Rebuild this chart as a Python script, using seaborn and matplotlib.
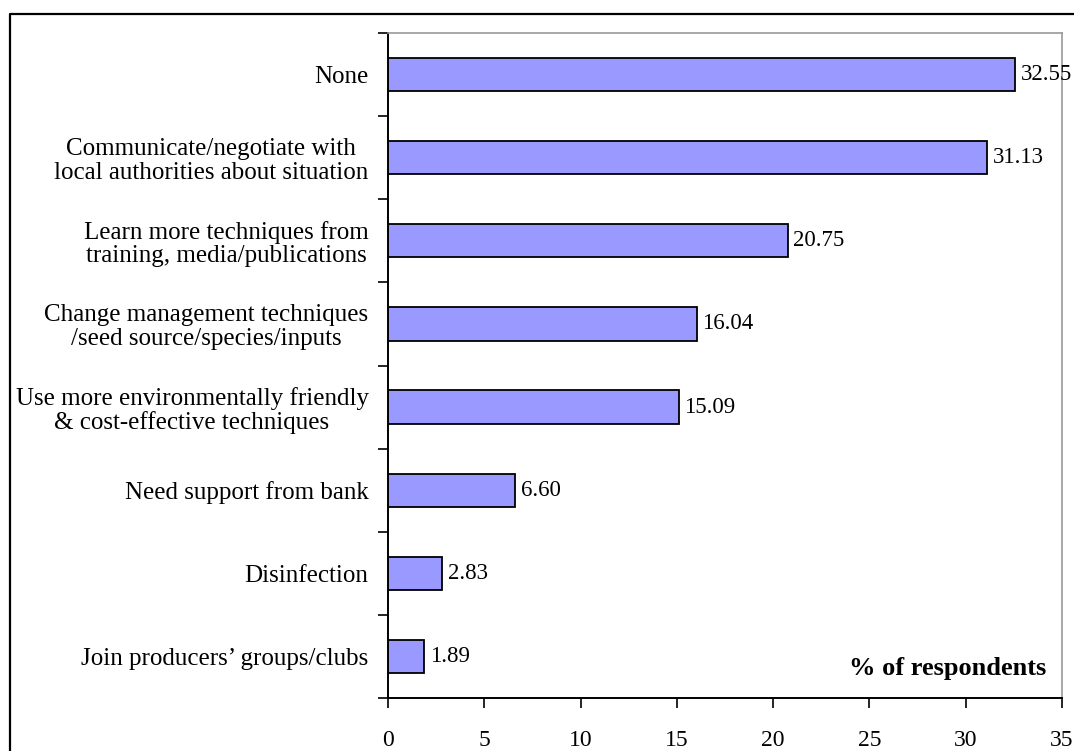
import matplotlib
matplotlib.use("Agg")
import matplotlib.pyplot as plt
import seaborn as sns
import pandas as pd
from matplotlib.lines import Line2D

categories = [
    "None",
    "Communicate/negotiate with\nlocal authorities about situation",
    "Learn more techniques from\ntraining, media/publications",
    "Change management techniques\n/seed source/species/inputs",
    "Use more environmentally friendly\n& cost-effective techniques",
    "Need support from bank",
    "Disinfection",
    "Join producers’ groups/clubs",
]
values = [32.55, 31.13, 20.75, 16.04, 15.09, 6.60, 2.83, 1.89]
xticks = [0, 5, 10, 15, 20, 25, 30, 35]
axis_title = "% of respondents"

sns.set_theme(style="white")
plt.rcParams["font.family"] = ["Liberation Serif", "DejaVu Serif"]
plt.rcParams["font.size"] = 16
plt.rcParams["text.color"] = "black"
plt.rcParams["xtick.color"] = "black"
plt.rcParams["ytick.color"] = "black"

df = pd.DataFrame({"category": categories, "value": values})

fig = plt.figure(figsize=(10.74, 7.51), dpi=100)
W, H = 1074, 751
ax = fig.add_axes([388 / W, 1 - 698 / H, (1062 - 388) / W, (698 - 33) / H])

sns.barplot(data=df, x="value", y="category", orient="h", color="#9999FF",
            saturation=1, width=0.4, edgecolor="black", linewidth=1.3, ax=ax)

ax.set_xlim(0, 35)
ax.set_ylim(len(categories) - 0.5, -0.5)
ax.set_xticks(xticks)
ax.set_xticklabels([str(t) for t in xticks], fontsize=17)
ax.set_xlabel("")
ax.set_ylabel("")

# y ticks: labels at centers (no marks), marks at boundaries
ax.set_yticks(range(len(categories)))
ax.set_yticklabels(categories, fontsize=18, multialignment="center",
                   linespacing=1.08, color="black")
ax.set_yticks([i - 0.5 for i in range(len(categories) + 1)], minor=True)
ax.tick_params(axis="y", which="major", length=0, pad=14)
ax.tick_params(axis="y", which="minor", length=7, width=1.2, color="black",
               direction="out", left=True)
ax.tick_params(axis="x", which="major", length=7, width=1.2, color="black",
               direction="out", bottom=True, pad=16, labelcolor="black")

for side in ["left", "bottom"]:
    ax.spines[side].set_color("black")
    ax.spines[side].set_linewidth(1.4)
for side in ["top", "right"]:
    ax.spines[side].set_color("#999999")
    ax.spines[side].set_linewidth(1.2)

for i, v in enumerate(values):
    ax.annotate(f"{v:.2f}", xy=(v, i), xytext=(4, 0), textcoords="offset points",
                ha="left", va="center", fontsize=16.5, color="black")

ax.text(0.977, 0.045, axis_title, transform=ax.transAxes, ha="right",
        va="center", fontsize=19, fontweight="bold", color="black")

# outer chart frame (left and top edges)
fig.add_artist(Line2D([9.5 / W, 9.5 / W, 1.0], [0.0, 1 - 14 / H, 1 - 14 / H],
                      transform=fig.transFigure, color="black", linewidth=1.6))

fig.savefig("out.png", dpi=100, facecolor="white")
